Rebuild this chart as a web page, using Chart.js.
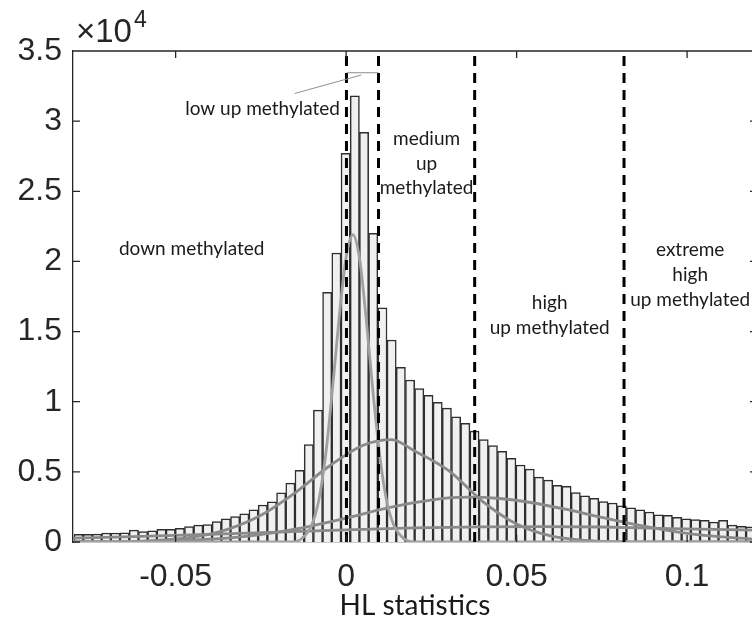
<!DOCTYPE html>
<html>
<head>
<meta charset="utf-8">
<script src="https://cdn.jsdelivr.net/npm/chart.js@4.4.1/dist/chart.umd.min.js"></script>
<style>
  html, body { margin: 0; padding: 0; background: #fff; overflow: hidden; width: 752px; height: 627px; }
  #wrap { position: relative; width: 760px; height: 627px; }
  canvas { display: block; }
</style>
</head>
<body>
<div id="wrap"><canvas id="c" width="760" height="627"></canvas></div>
<script>
// Histogram of HL statistics: bins start at binStart, each binWidth wide
const binStart = -0.0798;
const binWidth = 0.0027;
const binCounts = [
  550, 550, 560, 640, 640, 660, 850, 750, 800, 900,
  900, 980, 1100, 1200, 1240, 1450, 1650, 1820, 2000, 2290,
  2640, 2870, 3500, 4200, 5100, 6950, 9400, 17800, 20600, 27700,
  31800, 29200, 22000, 16700, 14400, 12450, 11550, 10930, 10450, 9950,
  9540, 8930, 8460, 7900, 7300, 6870, 6460, 5960, 5490, 5200,
  4630, 4410, 4040, 3970, 3530, 3300, 3120, 2880, 2780, 2580,
  2430, 2300, 2140, 1940, 1900, 1760, 1650, 1600, 1550, 1420,
  1550, 1200, 1110, 1090
];

// Mixture components fitted to the histogram (sampled points)
const narrowX = [-0.0801, -0.016, -0.013, -0.010, -0.008, -0.006, -0.004, -0.002, 0, 0.002, 0.004, 0.006, 0.008, 0.010, 0.012, 0.014, 0.017, 0.020, 0.1205];
const narrowY = [0, 0, 250, 1270, 3000, 6200, 10900, 16100, 20300, 21900, 20100, 15600, 10400, 5900, 2800, 1200, 220, 0, 0];

const mediumX = [-0.0801, -0.06, -0.045, -0.035, -0.025, -0.015, -0.005, 0.005, 0.0133, 0.02, 0.03, 0.04, 0.05, 0.06, 0.07, 0.08, 0.09, 0.1205];
const mediumY = [0, 60, 340, 880, 1900, 3500, 5400, 6900, 7300, 6500, 5100, 2900, 1280, 430, 110, 20, 0, 0];

const wideX = [-0.0801, -0.06, -0.04, -0.03, -0.02, -0.01, 0, 0.01, 0.02, 0.03, 0.0362, 0.045, 0.055, 0.065, 0.075, 0.085, 0.095, 0.105, 0.1205];
const wideY = [0, 40, 200, 390, 700, 1150, 1700, 2300, 2800, 3150, 3200, 3100, 2780, 2300, 1750, 1230, 800, 470, 200];

const flatX = [-0.0801, -0.06, -0.04, -0.02, 0, 0.02, 0.04, 0.057, 0.075, 0.095, 0.1205];
const flatY = [280, 400, 550, 710, 870, 1000, 1080, 1100, 1070, 950, 850];

// Class boundaries (dashed lines)
const thresholds = [0.0001, 0.0095, 0.0377, 0.0815];

// Axis ticks
const xTickValues = [-0.05, 0, 0.05, 0.1];
const xTickLabels = ['-0.05', '0', '0.05', '0.1'];
const yTickValues = [0, 5000, 10000, 15000, 20000, 25000, 30000, 35000];
const yTickLabels = ['0', '0.5', '1', '1.5', '2', '2.5', '3', '3.5'];

// Region labels (data coordinates of each text line's centre)
const regionLabels = [
  { lines: ['low up methylated'], x: -0.0245, y: [30900] },
  { lines: ['medium', 'up', 'methylated'], x: 0.0236, y: [28720, 26940, 25230] },
  { lines: ['down methylated'], x: -0.0453, y: [20880] },
  { lines: ['high', 'up methylated'], x: 0.0597, y: [17030, 15250] },
  { lines: ['extreme', 'high', 'up methylated'], x: 0.1009, y: [20810, 19030, 17250] }
];

const AXIS = '#262626';
const TICK_FONT = 'Liberation Sans, Arial, sans-serif';
const TEXT_FONT = 'Lato, "Open Sans", sans-serif';

const toPts = (xs, ys) => xs.map((x, i) => ({ x, y: ys[i] }));
const histData = binCounts.map((c, i) => ({ x: binStart + (i + 0.5) * binWidth, y: c }));

const curveStyle = (color) => ({
  type: 'line', borderColor: color, borderWidth: 2.8, pointRadius: 0,
  fill: false, cubicInterpolationMode: 'monotone', order: 2
});

const datasets = [
  {
    type: 'bar', data: histData, backgroundColor: '#f0f0f0', borderColor: '#2e2e2e',
    borderWidth: 1.5, barPercentage: 1, categoryPercentage: 1, order: 10
  },
  Object.assign(curveStyle('#a0a0a0'), { data: toPts(narrowX, narrowY) }),
  Object.assign(curveStyle('#8a8a8a'), { data: toPts(mediumX, mediumY) }),
  Object.assign(curveStyle('#8a8a8a'), { data: toPts(wideX, wideY) }),
  Object.assign(curveStyle('#8a8a8a'), { data: toPts(flatX, flatY) })
];
thresholds.forEach(t => datasets.push({
  type: 'line', data: [{ x: t, y: 0 }, { x: t, y: 35000 }],
  borderColor: '#000', borderWidth: 3, borderDash: [10, 7], pointRadius: 0, order: 1
}));

// Box, inward ticks, exponent, region labels and the bracket for the narrow class
const decorations = {
  id: 'decorations',
  afterDatasetsDraw(chart) {
    const { ctx, chartArea: a, scales: { x, y } } = chart;
    ctx.save();
    ctx.strokeStyle = AXIS;
    ctx.lineWidth = 1.3;
    ctx.beginPath();
    ctx.moveTo(a.left, a.top); ctx.lineTo(a.right, a.top); ctx.lineTo(a.right, a.bottom);
    xTickValues.forEach(v => {
      const px = x.getPixelForValue(v);
      ctx.moveTo(px, a.bottom); ctx.lineTo(px, a.bottom - 7);
      ctx.moveTo(px, a.top); ctx.lineTo(px, a.top + 7);
    });
    yTickValues.forEach(v => {
      const py = y.getPixelForValue(v);
      ctx.moveTo(a.left, py); ctx.lineTo(a.left + 7, py);
      ctx.moveTo(a.right, py); ctx.lineTo(a.right - 7, py);
    });
    ctx.stroke();

    // x10^4 multiplier
    ctx.fillStyle = AXIS;
    ctx.textBaseline = 'alphabetic';
    ctx.textAlign = 'left';
    ctx.font = '33px ' + TICK_FONT;
    ctx.fillText('\u00d710', a.left + 3, a.top - 9);
    const w = ctx.measureText('\u00d710').width;
    ctx.font = '23px ' + TICK_FONT;
    ctx.fillText('4', a.left + 3 + w + 2, a.top - 24);

    // bracket + leader for "low up methylated"
    ctx.strokeStyle = '#8f8f8f';
    ctx.lineWidth = 1;
    ctx.beginPath();
    const by = y.getPixelForValue(33450);
    ctx.moveTo(x.getPixelForValue(thresholds[0]), by);
    ctx.lineTo(x.getPixelForValue(thresholds[1]), by);
    ctx.moveTo(x.getPixelForValue(-0.0151), y.getPixelForValue(31970));
    ctx.lineTo(x.getPixelForValue(0.00446), y.getPixelForValue(33290));
    ctx.stroke();

    // region labels
    ctx.fillStyle = '#1a1a1a';
    ctx.font = '19px ' + TEXT_FONT;
    ctx.textAlign = 'center';
    ctx.textBaseline = 'middle';
    regionLabels.forEach(r => {
      r.lines.forEach((t, i) => ctx.fillText(t, x.getPixelForValue(r.x), y.getPixelForValue(r.y[i])));
    });
    ctx.restore();
  }
};

new Chart(document.getElementById('c'), {
  type: 'bar',
  data: { datasets },
  plugins: [decorations],
  options: {
    responsive: false,
    animation: false,
    devicePixelRatio: 1,
    layout: { padding: { top: 51, right: 3, left: 0, bottom: 0 } },
    plugins: { legend: { display: false }, tooltip: { enabled: false } },
    scales: {
      x: {
        type: 'linear', min: -0.0801, max: 0.1205, offset: false,
        grid: { display: false, drawTicks: false },
        border: { display: true, color: AXIS, width: 1.3 },
        afterBuildTicks: s => { s.ticks = xTickValues.map(v => ({ value: v })); },
        afterFit: s => { s.height = 85; },
        ticks: {
          autoSkip: false, maxRotation: 0, padding: 16, color: AXIS,
          font: { family: TICK_FONT, size: 32 },
          callback: (v, i) => xTickLabels[i]
        },
        title: {
          display: true, text: 'HL statistics', color: '#1a1a1a',
          font: { family: TEXT_FONT, size: 28 }, padding: { top: 0, bottom: 4 }
        }
      },
      y: {
        type: 'linear', min: 0, max: 35000,
        grid: { display: false, drawTicks: false },
        border: { display: true, color: AXIS, width: 1.3 },
        afterBuildTicks: s => { s.ticks = yTickValues.map(v => ({ value: v })); },
        afterFit: s => { s.width = 73; },
        ticks: {
          padding: 11, color: AXIS,
          font: { family: TICK_FONT, size: 32 },
          callback: (v, i) => yTickLabels[i]
        }
      }
    }
  }
});
</script>
</body>
</html>
